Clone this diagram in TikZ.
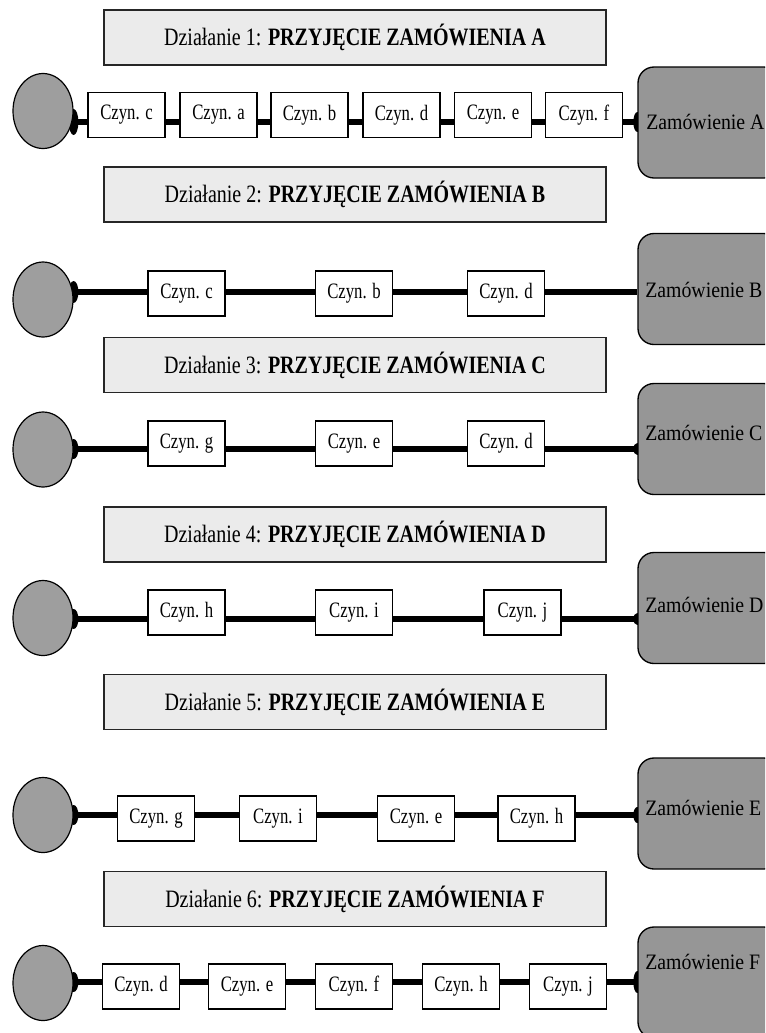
\documentclass[tikz,border=0pt]{standalone}
\usepackage{fontspec}
\setmainfont{Liberation Serif}
\usetikzlibrary{shapes.geometric}

\definecolor{titlefill}{RGB}{235,235,235}
\definecolor{startfill}{RGB}{158,158,158}
\definecolor{endfill}{RGB}{150,150,150}

\pgfdeclarelayer{bg}
\pgfsetlayers{bg,main}

% horizontally condensed text
\newcommand{\condT}[1]{\scalebox{0.8}[1]{#1}}
\newcommand{\condC}[1]{\scalebox{0.76}[1]{#1}}
\newcommand{\condZ}[1]{\scalebox{0.9}[1]{#1}}

\begin{document}
\begin{tikzpicture}[x=0.75pt,y=-0.75pt,
  titlebox/.style={draw=black!85, line width=1.1pt, fill=titlefill,
    minimum width=376.5pt, minimum height=41.25pt, inner sep=0pt,
    font=\fontsize{18.75}{22}\selectfont},
  task/.style={draw=black, line width=0.9pt, fill=white,
    minimum width=57.75pt, minimum height=33.75pt, inner sep=0pt,
    font=\fontsize{16.5}{19}\selectfont},
  start/.style={ellipse, draw=black, line width=0.9pt, fill=startfill,
    minimum width=45pt, minimum height=56.25pt, inner sep=0pt},
  order/.style={draw=black, line width=1pt, fill=endfill, rounded corners=12pt,
    minimum width=106.5pt, minimum height=83.25pt, inner sep=0pt},
  ordertext/.style={anchor=west, inner sep=0pt, font=\fontsize{16.5}{19}\selectfont},
  conn/.style={line width=3.9pt, black},
  blob/.style={fill=black}
]
\useasboundingbox (0,0) rectangle (765,1033);
\clip (0,0) rectangle (765,1033);

% ---------- row lines (y of the connector) ----------
\coordinate (L1) at (0,122);
\coordinate (L2) at (0,292);
\coordinate (L3) at (0,449);
\coordinate (L4) at (0,619);
\coordinate (L5) at (0,815);
\coordinate (L6) at (0,982);

% ---------- titles ----------
\node[titlebox] (t1) at (355,37.5) {\condT{Działanie 1: \textbf{PRZYJĘCIE ZAMÓWIENIA A}}};
\node[titlebox] (t2) at (355,194.5) {\condT{Działanie 2: \textbf{PRZYJĘCIE ZAMÓWIENIA B}}};
\node[titlebox] (t3) at (355,365) {\condT{Działanie 3: \textbf{PRZYJĘCIE ZAMÓWIENIA C}}};
\node[titlebox] (t4) at (355,534.5) {\condT{Działanie 4: \textbf{PRZYJĘCIE ZAMÓWIENIA D}}};
\node[titlebox] (t5) at (355,702) {\condT{Działanie 5: \textbf{PRZYJĘCIE ZAMÓWIENIA E}}};
\node[titlebox] (t6) at (355,899) {\condT{Działanie 6: \textbf{PRZYJĘCIE ZAMÓWIENIA F}}};

% ---------- start events ----------
\node[start] (o1) at (43,111) {};
\node[start] (o2) at (43,299.5) {};
\node[start] (o3) at (43,449.5) {};
\node[start] (o4) at (43,618) {};
\node[start] (o5) at (43,815) {};
\node[start] (o6) at (43,983) {};

% ---------- orders ----------
\node[order] (z1) at (709,122.5) {};
\node[order] (z2) at (709,289) {};
\node[order] (z3) at (709,439) {};
\node[order] (z4) at (709,608) {};
\node[order] (z5) at (709,813.5) {};
\node[order] (z6) at (709,982.5) {};
\node[ordertext] (z1t) at (646,122) {\condZ{Zamówienie A}};
\node[ordertext] (z2t) at (645,290) {\condZ{Zamówienie B}};
\node[ordertext] (z3t) at (645,433) {\condZ{Zamówienie C}};
\node[ordertext] (z4t) at (645,605) {\condZ{Zamówienie D}};
\node[ordertext] (z5t) at (645,808) {\condZ{Zamówienie E}};
\node[ordertext] (z6t) at (645,962) {\condZ{Zamówienie F}};

% ---------- tasks ----------
\node[task] (a1) at (126.5,115) {\condC{Czyn. c}};
\node[task] (a2) at (218.5,115) {\condC{Czyn. a}};
\node[task] (a3) at (309.5,115) {\condC{Czyn. b}};
\node[task] (a4) at (401.5,115) {\condC{Czyn. d}};
\node[task] (a5) at (493,115) {\condC{Czyn. e}};
\node[task] (a6) at (584,115) {\condC{Czyn. f}};

\node[task] (b1) at (186.5,293.5) {\condC{Czyn. c}};
\node[task] (b2) at (354,293.5) {\condC{Czyn. b}};
\node[task] (b3) at (506,293.5) {\condC{Czyn. d}};

\node[task] (c1) at (186.5,443.5) {\condC{Czyn. g}};
\node[task] (c2) at (354,443.5) {\condC{Czyn. e}};
\node[task] (c3) at (506,443.5) {\condC{Czyn. d}};

\node[task] (d1) at (186.5,612.5) {\condC{Czyn. h}};
\node[task] (d2) at (354,612.5) {\condC{Czyn. i}};
\node[task] (d3) at (522.5,612.5) {\condC{Czyn. j}};

\node[task] (e1) at (156,818.5) {\condC{Czyn. g}};
\node[task] (e2) at (278,818.5) {\condC{Czyn. i}};
\node[task] (e3) at (416,818.5) {\condC{Czyn. e}};
\node[task] (e4) at (536.5,818.5) {\condC{Czyn. h}};

\node[task] (f1) at (141,986.5) {\condC{Czyn. d}};
\node[task] (f2) at (247,986.5) {\condC{Czyn. e}};
\node[task] (f3) at (354,986.5) {\condC{Czyn. f}};
\node[task] (f4) at (461,986.5) {\condC{Czyn. h}};
\node[task] (f5) at (568,986.5) {\condC{Czyn. j}};

% ---------- connectors (behind the shapes) ----------
\begin{pgfonlayer}{bg}
  \foreach \p/\q in {o1/a1,a1/a2,a2/a3,a3/a4,a4/a5,a5/a6,a6/z1}
    \draw[conn] (\p.east |- L1) -- (\q.west |- L1);
  \foreach \p/\q in {o2/b1,b1/b2,b2/b3,b3/z2}
    \draw[conn] (\p.east |- L2) -- (\q.west |- L2);
  \foreach \p/\q in {o3/c1,c1/c2,c2/c3,c3/z3}
    \draw[conn] (\p.east |- L3) -- (\q.west |- L3);
  \foreach \p/\q in {o4/d1,d1/d2,d2/d3,d3/z4}
    \draw[conn] (\p.east |- L4) -- (\q.west |- L4);
  \foreach \p/\q in {o5/e1,e1/e2,e2/e3,e3/e4,e4/z5}
    \draw[conn] (\p.east |- L5) -- (\q.west |- L5);
  \foreach \p/\q in {o6/f1,f1/f2,f2/f3,f3/f4,f4/f5,f5/z6}
    \draw[conn] (\p.east |- L6) -- (\q.west |- L6);

  % connection points at the start events
  \foreach \r/\ry in {1/13,2/11,3/10,4/10,5/10,6/10}
    \fill[blob] (o\r.east |- L\r) ellipse [x radius=3.6pt, y radius=\ry*0.75pt];
  % connection points at the orders
  \foreach \r/\ry in {1/10,3/6,4/6,5/8,6/11}
    \fill[blob] (z\r.west |- L\r) ellipse [x radius=3pt, y radius=\ry*0.75pt];
\end{pgfonlayer}
\end{tikzpicture}
\end{document}
